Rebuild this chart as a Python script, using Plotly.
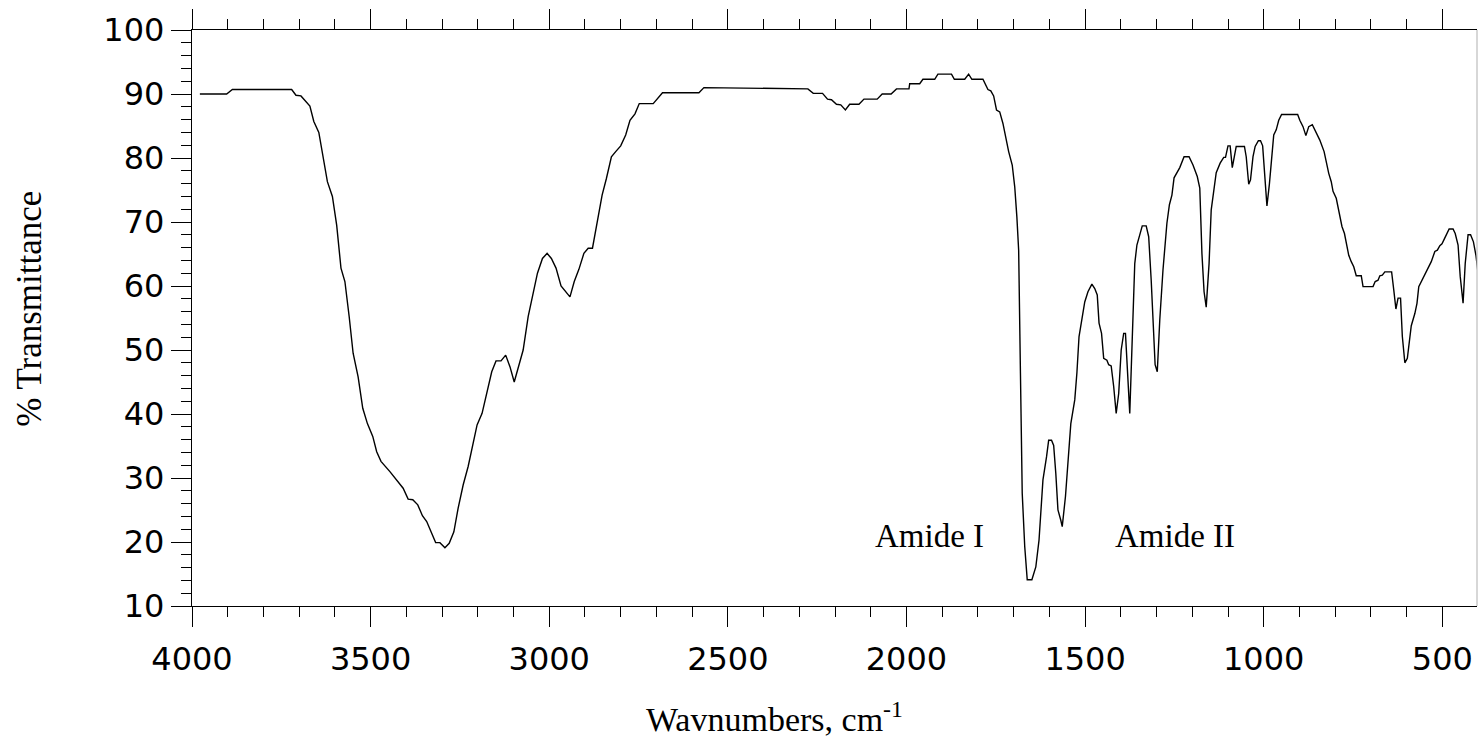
import plotly.graph_objects as go

wavenumber = [3978, 3903, 3887, 3721, 3709, 3695, 3670, 3659, 3645, 3633, 3621, 3607, 3595, 3583, 3572,
              3560, 3549, 3535, 3522, 3509, 3494, 3483, 3471, 3446, 3423, 3409, 3395, 3382, 3368, 3355,
              3343, 3331, 3318, 3306, 3292, 3280, 3267, 3255, 3241, 3227, 3215, 3202, 3188, 3175, 3161,
              3149, 3135, 3122, 3110, 3098, 3085, 3073, 3059, 3047, 3033, 3019, 3006, 2994, 2981, 2967,
              2942, 2930, 2917, 2903, 2891, 2879, 2865, 2852, 2840, 2826, 2814, 2800, 2786, 2774, 2760,
              2748, 2709, 2683, 2581, 2567, 2276, 2261, 2235, 2221, 2210, 2196, 2184, 2171, 2159, 2133,
              2119, 2082, 2068, 2043, 2028, 1993, 1991, 1963, 1954, 1921, 1912, 1874, 1866, 1837, 1826,
              1817, 1786, 1772, 1764, 1756, 1748, 1739, 1730, 1721, 1714, 1704, 1697, 1691, 1686, 1681,
              1676, 1669, 1662, 1649, 1638, 1629, 1618, 1608, 1602, 1594, 1588, 1582, 1576, 1568, 1564,
              1555, 1548, 1540, 1529, 1523, 1517, 1509, 1501, 1492, 1481, 1473, 1466, 1461, 1454, 1448,
              1439, 1434, 1427, 1420, 1413, 1406, 1399, 1392, 1387, 1375, 1368, 1361, 1355, 1347, 1340,
              1329, 1322, 1315, 1304, 1298, 1291, 1282, 1271, 1264, 1257, 1251, 1235, 1223, 1209, 1198,
              1186, 1179, 1173, 1167, 1161, 1153, 1147, 1133, 1122, 1112, 1107, 1100, 1094, 1088, 1077,
              1054, 1049, 1042, 1037, 1030, 1024, 1015, 1009, 1003, 996, 991, 984, 976, 972, 965,
              958, 950, 905, 899, 890, 882, 874, 864, 857, 843, 831, 825, 818, 811, 806,
              797, 788, 781, 774, 767, 762, 755, 748, 741, 727, 722, 694, 688, 680, 675,
              668, 661, 642, 636, 630, 624, 617, 612, 605, 598, 593, 587, 577, 571, 566,
              554, 542, 531, 521, 514, 507, 501, 494, 481, 470, 464, 456, 450, 442, 436,
              428, 421, 413, 406, 400]
transmittance = [90.0, 90.0, 90.7, 90.7, 89.8, 89.7, 88.1, 85.7, 84.0, 80.2, 76.3, 74.0, 69.5, 62.8, 60.7,
                 55.2, 49.5, 45.8, 40.9, 38.5, 36.5, 34.1, 32.6, 31.0, 29.4, 28.4, 26.7, 26.6, 25.8, 24.1,
                 23.2, 21.6, 19.9, 19.9, 19.1, 19.8, 21.6, 25.3, 28.9, 31.8, 35.2, 38.3, 40.1, 43.2, 46.6,
                 48.3, 48.3, 49.2, 47.4, 45.0, 47.5, 50.0, 55.2, 58.3, 62.0, 64.3, 65.1, 64.3, 62.8, 60.0,
                 58.3, 60.7, 62.6, 65.1, 65.9, 65.9, 70.3, 74.2, 76.8, 80.2, 81.0, 81.9, 83.6, 85.9, 86.9,
                 88.5, 88.5, 90.2, 90.2, 91.0, 90.8, 90.1, 90.1, 89.2, 89.1, 88.4, 88.3, 87.5, 88.4, 88.4,
                 89.2, 89.2, 90.0, 90.0, 90.8, 90.8, 91.6, 91.6, 92.3, 92.3, 93.1, 93.1, 92.3, 92.3, 93.1,
                 92.3, 92.3, 90.7, 90.5, 89.7, 87.5, 87.2, 85.4, 82.8, 81.0, 78.9, 75.5, 70.8, 65.6, 46.4,
                 27.6, 19.3, 14.1, 14.1, 16.1, 20.3, 29.7, 33.3, 35.9, 35.9, 35.1, 30.7, 25.0, 23.4, 22.4,
                 27.1, 31.8, 38.5, 42.2, 46.4, 52.1, 55.0, 57.5, 59.1, 60.3, 59.6, 58.6, 54.2, 52.6, 48.7,
                 48.4, 47.7, 47.5, 44.3, 40.1, 43.2, 50.0, 52.6, 52.6, 40.1, 50.5, 63.5, 66.4, 68.0, 69.4,
                 69.4, 67.7, 60.9, 47.7, 46.6, 54.7, 62.5, 69.8, 72.7, 74.2, 76.9, 78.5, 80.2, 80.2, 78.9,
                 77.1, 75.3, 65.1, 59.1, 56.7, 63.5, 71.9, 77.7, 79.2, 80.1, 80.1, 81.9, 81.9, 78.5, 81.8,
                 81.8, 80.2, 75.9, 76.6, 80.2, 81.8, 82.7, 82.7, 81.9, 77.1, 72.5, 76.0, 81.0, 83.6, 84.4,
                 85.9, 86.8, 86.8, 85.9, 84.9, 83.5, 84.9, 85.2, 84.4, 82.8, 81.0, 79.2, 77.6, 76.3, 74.8,
                 73.7, 71.4, 69.3, 68.2, 66.4, 64.8, 63.8, 63.0, 61.6, 61.6, 59.9, 59.9, 60.7, 60.9, 61.6,
                 61.7, 62.2, 62.2, 59.4, 56.4, 58.1, 58.1, 52.1, 48.0, 48.7, 51.0, 53.8, 55.7, 57.3, 59.9,
                 61.2, 62.5, 63.8, 65.4, 65.6, 66.3, 66.6, 67.4, 68.9, 68.9, 68.2, 66.4, 61.5, 57.3, 63.5,
                 68.0, 68.0, 66.9, 64.8, 62.0]

x_range = [4000, 403]
y_range = [10, 100]
x_title = "Wavnumbers, cm<sup>-1</sup>"
y_title = "% Transmittance"
band_labels = ["Amide I", "Amide II"]
band_x = [1935, 1249]
band_y = [20.9, 20.9]

fig = go.Figure()
fig.add_trace(go.Scatter(x=wavenumber, y=transmittance, mode="lines",
                         line=dict(color="black", width=1.4), showlegend=False,
                         hoverinfo="skip"))

for lab, bx, by in zip(band_labels, band_x, band_y):
    fig.add_annotation(x=bx, y=by, xref="x", yref="y", text=lab, showarrow=False,
                       font=dict(family="Liberation Serif", size=33, color="black"))

fig.add_annotation(x=0.453, y=-0.193, xref="paper", yref="paper", text=x_title,
                   showarrow=False, yanchor="middle", xanchor="center",
                   font=dict(family="Liberation Serif", size=34, color="black"))
fig.add_annotation(x=-0.126, y=0.516, xref="paper", yref="paper", text=y_title,
                   showarrow=False, textangle=-90, xanchor="center", yanchor="middle",
                   font=dict(family="Liberation Serif", size=35, color="black"))

fig.add_shape(type="line", xref="paper", yref="paper", x0=1, x1=1, y0=0, y1=1,
              line=dict(color="#bdbdbd", width=1.2))

fig.update_xaxes(range=x_range, dtick=500, tick0=0, ticks="outside", ticklen=20,
                 tickwidth=1.4, tickcolor="black", showline=True, linecolor="black",
                 linewidth=1.4, mirror="ticks", showgrid=False, zeroline=False,
                 automargin=False,
                 tickfont=dict(family="DejaVu Sans", size=32, color="black"),
                 ticklabelstandoff=4,
                 minor=dict(dtick=100, ticks="outside", ticklen=10, tickwidth=1.4,
                            tickcolor="black", showgrid=False))
fig.update_yaxes(range=y_range, dtick=10, tick0=0, ticks="outside", ticklen=20,
                 tickwidth=1.4, tickcolor="black", showline=True, linecolor="black",
                 linewidth=1.4, showgrid=False, zeroline=False, automargin=False,
                 tickfont=dict(family="DejaVu Sans", size=32, color="black"),
                 minor=dict(dtick=2, ticks="outside", ticklen=10, tickwidth=1.4,
                            tickcolor="black", showgrid=False))

fig.update_layout(width=1478, height=753, margin=dict(l=192, r=1, t=30, b=147),
                  plot_bgcolor="white", paper_bgcolor="white")

fig.write_html("out.html", config={"displayModeBar": False},
               post_script="document.body.style.margin='0';document.body.style.overflow='hidden';")
